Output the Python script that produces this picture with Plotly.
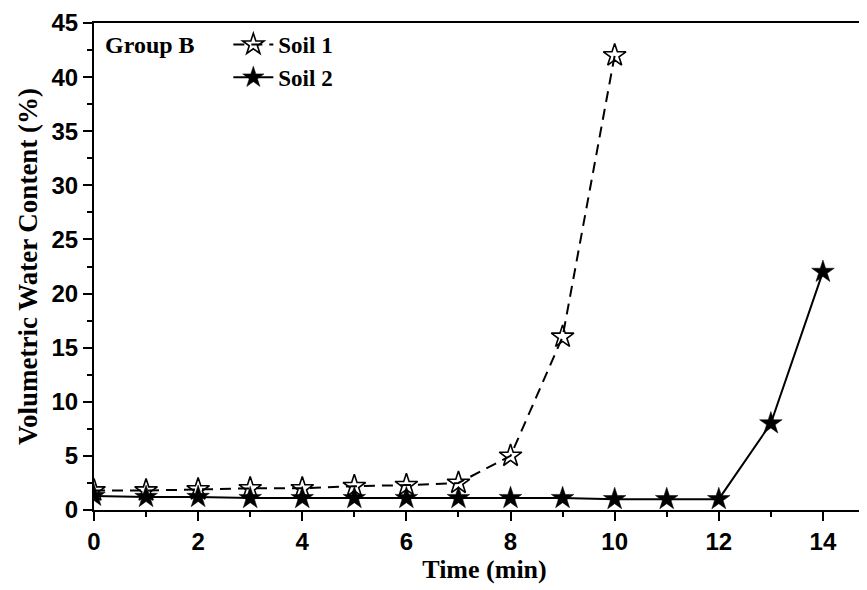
import plotly.graph_objects as go

soil1_time = [0, 1, 2, 3, 4, 5, 6, 7, 8, 9, 10]
soil1_vwc = [1.8, 1.8, 1.9, 2.0, 2.0, 2.2, 2.3, 2.5, 5.0, 16.0, 42.0]
soil2_time = [0, 1, 2, 3, 4, 5, 6, 7, 8, 9, 10, 11, 12, 13, 14]
soil2_vwc = [1.3, 1.2, 1.2, 1.1, 1.1, 1.1, 1.1, 1.1, 1.1, 1.1, 1.0, 1.0, 1.0, 8.0, 22.0]
x_ticks = [0, 2, 4, 6, 8, 10, 12, 14]
y_ticks = [0, 5, 10, 15, 20, 25, 30, 35, 40, 45]

serif = "Liberation Serif"
sans = "Liberation Sans"

fig = go.Figure()
fig.add_trace(go.Scatter(
    x=soil1_time, y=soil1_vwc, name="Soil 1", mode="lines+markers",
    line=dict(color="black", width=2, dash="11px,7px"),
    marker=dict(symbol="star-open", size=17, color="black", line=dict(width=1.6, color="black")),
))
fig.add_trace(go.Scatter(
    x=soil2_time, y=soil2_vwc, name="Soil 2", mode="lines+markers",
    line=dict(color="black", width=2),
    marker=dict(symbol="star", size=17, color="black", line=dict(width=0.5, color="black")),
))

fig.add_annotation(
    x=0.011, y=0.955, xref="paper", yref="paper", xanchor="left", yanchor="middle",
    text="Group B", showarrow=False,
    font=dict(family=serif, size=24, color="black", weight="bold"),
)

fig.update_layout(
    width=867, height=590,
    margin=dict(l=86, r=0, t=15, b=88),
    paper_bgcolor="white", plot_bgcolor="white",
    showlegend=True,
    legend=dict(
        x=0.172, y=1.0, xanchor="left", yanchor="top",
        bgcolor="rgba(0,0,0,0)",
        font=dict(family=serif, size=23, color="black", weight="bold"),
        tracegroupgap=0, itemwidth=40,
    ),
    xaxis=dict(
        range=[0, 15.0], tickvals=x_ticks, showgrid=False, zeroline=False, automargin=False,
        showline=True, linecolor="black", linewidth=2, mirror=True,
        ticks="outside", ticklen=9, tickwidth=2, tickcolor="black",
        minor=dict(dtick=1, ticks="outside", ticklen=5, tickwidth=2, tickcolor="black", showgrid=False),
        tickfont=dict(family=sans, size=24, color="black", weight="bold"),
        title=dict(text="Time (min)", font=dict(family=serif, size=26, color="black", weight="bold"), standoff=4),
    ),
    yaxis=dict(
        range=[0, 45], tickvals=y_ticks, showgrid=False, zeroline=False, automargin=False,
        showline=True, linecolor="black", linewidth=2,
        ticks="outside", ticklen=9, tickwidth=2, tickcolor="black",
        minor=dict(dtick=2.5, ticks="outside", ticklen=5, tickwidth=2, tickcolor="black", showgrid=False),
        tickfont=dict(family=sans, size=24, color="black", weight="bold"),
        title=dict(text="Volumetric Water Content (%)", font=dict(family=serif, size=27, color="black", weight="bold"), standoff=6),
    ),
)

fig.write_html("out.html")
